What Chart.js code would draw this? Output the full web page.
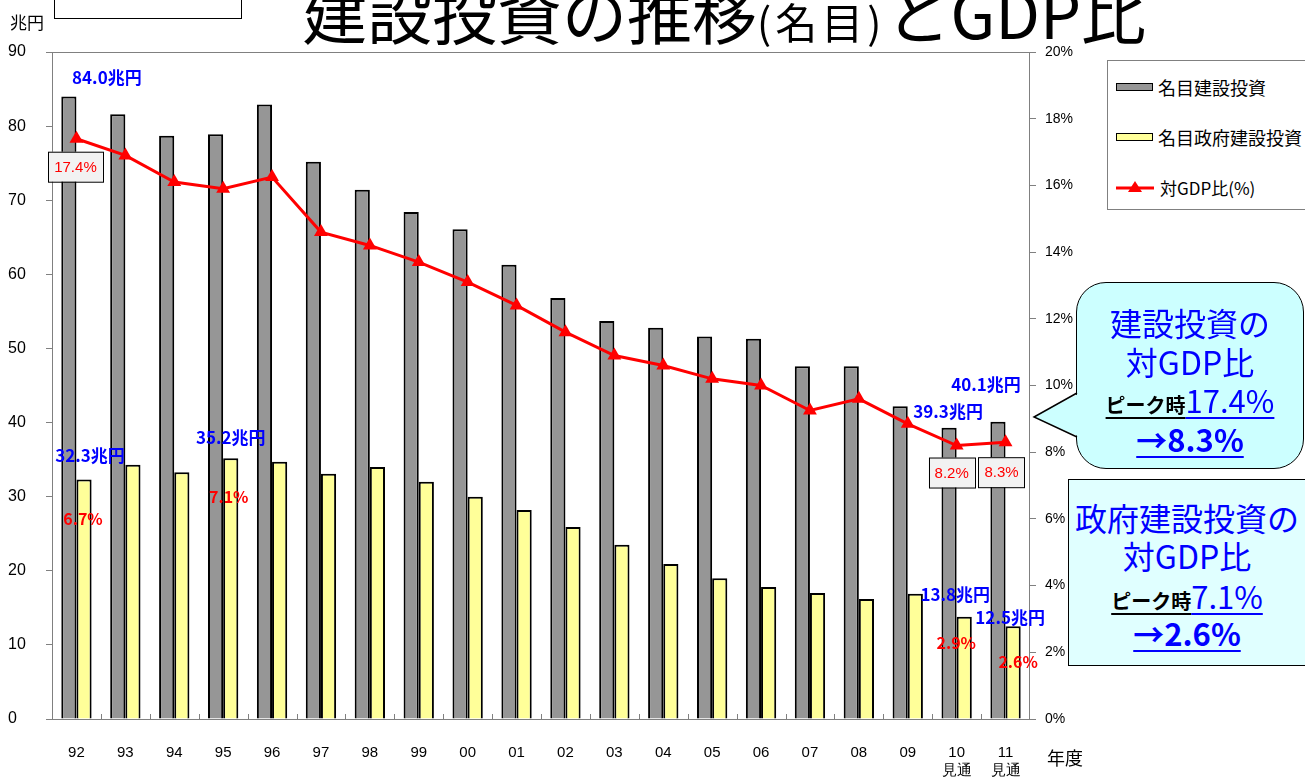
<!DOCTYPE html>
<html>
<head>
<meta charset="utf-8">
<script src="https://cdn.jsdelivr.net/npm/chart.js@4/dist/chart.umd.min.js"></script>
<style>
body { margin: 0; background: #fff; overflow: hidden; }
#wrap { position: relative; width: 1305px; height: 778px; overflow: hidden; font-family: "Noto Sans CJK JP", sans-serif; }
#chart { position: absolute; left: 0; top: 0; }
.abs { position: absolute; white-space: nowrap; }
.bubble { position: absolute; box-sizing: border-box; border: 1.5px solid #000; }
.line { position: absolute; left: 0; width: 100%; text-align: center; white-space: nowrap; color: #0000ff; }
.u { text-decoration: underline; text-decoration-thickness: 2px; text-underline-offset: 4px; }
</style>
</head>
<body>
<div id="wrap">
  <canvas id="chart" width="1305" height="778"></canvas>

  <div class="abs" style="left:54px; top:-2px; width:186px; height:19px; border:1px solid #000;"></div>
  <div class="abs" style="left:10px; top:10px; font-size:17px; line-height:24px;">兆円</div>
  <div class="abs" style="left:302px; top:-29px; font-size:65px; line-height:80px;">建設投資の推移<span style="font-size:42px; letter-spacing:4px;">(名目)</span>とGDP比</div>
  <div class="abs" style="left:1047px; top:745px; font-size:18px; line-height:24px;">年度</div>

  <!-- legend -->
  <div class="abs" style="left:1107px; top:60px; width:220px; height:150px; border:1px solid #808080; box-sizing:border-box; background:#fff;"></div>
  <div class="abs" style="left:1116px; top:83px; width:37px; height:8px; background:#969696; border:1.5px solid #000; box-sizing:border-box;"></div>
  <div class="abs" style="left:1158px; top:75px; font-size:18px; line-height:24px;">名目建設投資</div>
  <div class="abs" style="left:1116px; top:133px; width:37px; height:8px; background:#ffff99; border:1.5px solid #000; box-sizing:border-box;"></div>
  <div class="abs" style="left:1158px; top:125px; font-size:18px; line-height:24px;">名目政府建設投資</div>
  <svg class="abs" style="left:1114px; top:178px;" width="42" height="20">
    <line x1="2" y1="10" x2="40" y2="10" stroke="#ff0000" stroke-width="3"/>
    <polygon points="21,3 28,14 14,14" fill="#ff0000"/>
  </svg>
  <div class="abs" style="left:1160px; top:176px; font-size:17px; line-height:24px;">対GDP比(%)</div>

  <!-- callout 1 -->
  <div class="bubble" style="left:1076px; top:282px; width:228px; height:187px; border-radius:30px; background:#ccffff;">
    <div class="line" style="top:18px; font-size:32px; line-height:42px;">建設投資の</div>
    <div class="line" style="top:57px; font-size:32px; line-height:42px;">対GDP比</div>
    <div class="line" style="top:97px; line-height:40px;"><span class="u" style="font-size:20px; font-weight:bold; color:#000;">ピーク時</span><span class="u" style="font-size:31px;">17.4%</span></div>
    <div class="line" style="top:136px; line-height:40px;"><span class="u" style="font-size:31px; font-weight:bold;">→8.3%</span></div>
  </div>
  <svg class="abs" style="left:1030px; top:388px;" width="52" height="56">
    <polygon points="50,5 4,29 50,49" fill="#ccffff"/>
    <polyline points="47,5 4,29 47,49" fill="none" stroke="#000" stroke-width="1.5"/>
  </svg>

  <!-- callout 2 -->
  <div class="bubble" style="left:1068px; top:479px; width:250px; height:187px; background:#e0ffff;">
    <div class="line" style="top:16px; width:236px; font-size:32px; line-height:42px;">政府建設投資の</div>
    <div class="line" style="top:54px; width:236px; font-size:32px; line-height:42px;">対GDP比</div>
    <div class="line" style="top:96px; width:236px; line-height:40px;"><span class="u" style="font-size:20px; font-weight:bold; color:#000;">ピーク時</span><span class="u" style="font-size:31px;">7.1%</span></div>
    <div class="line" style="top:133px; width:236px; line-height:40px;"><span class="u" style="font-size:31px; font-weight:bold;">→2.6%</span></div>
  </div>
</div>

<script>
// 年度
var years = ['92', '93', '94', '95', '96', '97', '98', '99', '00', '01',
             '02', '03', '04', '05', '06', '07', '08', '09', ['10', '見通'], ['11', '見通']];

// 名目建設投資（兆円）
var grossInvest = [84.0, 81.6, 78.7, 78.9, 82.9, 75.2, 71.4, 68.4, 66.1, 61.3,
                   56.8, 53.7, 52.8, 51.6, 51.3, 47.6, 47.6, 42.2, 39.3, 40.1];

// 名目政府建設投資（兆円）
var govInvest = [32.3, 34.3, 33.3, 35.2, 34.7, 33.1, 34.0, 32.0, 30.0, 28.2,
                 25.9, 23.5, 20.9, 19.0, 17.8, 17.0, 16.2, 16.9, 13.8, 12.5];

// 建設投資の対GDP比（%）
var gdpRatio = [17.4, 16.9, 16.1, 15.9, 16.25, 14.6, 14.2, 13.7, 13.1, 12.4,
                11.6, 10.9, 10.6, 10.2, 10.0, 9.25, 9.6, 8.85, 8.2, 8.3];

// 政府建設投資の対GDP比（%）: 注記のある年度だけ
var govRatioIdx = [0, 3, 18, 19];
var govRatioVal = [6.7, 7.1, 2.9, 2.6];

var narrow = '"Liberation Sans Narrow", "Arial Narrow", "Liberation Sans", sans-serif';
var jp = '"Noto Sans CJK JP", sans-serif';

// ds: 0 = line, 1 = gross bars, 2 = gov bars
var notes = [
    { ds: 1, i: 0, text: grossInvest[0].toFixed(1) + '兆円', dx: 38, dy: -19, kind: 'blue' },
    { ds: 2, i: 0, text: govInvest[0].toFixed(1) + '兆円', dx: 6, dy: -24, kind: 'blue' },
    { ds: 2, i: 3, text: govInvest[3].toFixed(1) + '兆円', dx: 0, dy: -21, kind: 'blue' },
    { ds: 1, i: 19, text: grossInvest[19].toFixed(1) + '兆円', dx: -12, dy: -37, kind: 'blue' },
    { ds: 1, i: 18, text: grossInvest[18].toFixed(1) + '兆円', dx: -1, dy: -16, kind: 'blue' },
    { ds: 2, i: 18, text: govInvest[18].toFixed(1) + '兆円', dx: -9, dy: -22, kind: 'blue' },
    { ds: 2, i: 19, text: govInvest[19].toFixed(1) + '兆円', dx: -3, dy: -9, kind: 'blue' },
    { ds: 0, i: 0, text: gdpRatio[0].toFixed(1) + '%', dx: -1, dy: 28, kind: 'box' },
    { ds: 0, i: 18, text: gdpRatio[18].toFixed(1) + '%', dx: -5, dy: 27, kind: 'box' },
    { ds: 0, i: 19, text: gdpRatio[19].toFixed(1) + '%', dx: -4, dy: 30, kind: 'box' }
];
var redOffsets = [[-1, 39], [-2, 39], [-8, 26], [5, 36]];
for (var k = 0; k < govRatioIdx.length; k++) {
    notes.push({ ds: 2, i: govRatioIdx[k], text: govRatioVal[k].toFixed(1) + '%',
                 dx: redOffsets[k][0], dy: redOffsets[k][1], kind: 'red' });
}

var framePlugin = {
    id: 'frame',
    beforeDatasetsDraw: function(chart) {
        var a = chart.chartArea;
        var ctx = chart.ctx;
        var x = chart.scales.x;
        ctx.save();
        ctx.strokeStyle = '#808080';
        ctx.lineWidth = 1;
        ctx.strokeRect(a.left + 0.5, a.top + 0.5, a.right - a.left - 1, a.bottom - a.top);
        // small category ticks on the bottom edge
        for (var i = 1; i < years.length; i++) {
            var px = Math.round((x.getPixelForValue(i - 1) + x.getPixelForValue(i)) / 2) + 0.5;
            ctx.beginPath();
            ctx.moveTo(px, a.bottom);
            ctx.lineTo(px, a.bottom - 5);
            ctx.stroke();
        }
        ctx.restore();
    }
};

var labelPlugin = {
    id: 'notes',
    afterDatasetsDraw: function(chart) {
        var ctx = chart.ctx;
        ctx.save();
        ctx.textAlign = 'center';
        ctx.textBaseline = 'middle';
        for (var n = 0; n < notes.length; n++) {
            var note = notes[n];
            var el = chart.getDatasetMeta(note.ds).data[note.i];
            var cx = el.x + note.dx;
            var cy = el.y + note.dy;
            if (note.kind == 'box') {
                ctx.font = '15px ' + narrow;
                var w = ctx.measureText(note.text).width + 12;
                ctx.fillStyle = '#f2f2f2';
                ctx.fillRect(cx - w / 2, cy - 15, w, 30);
                ctx.strokeStyle = '#000';
                ctx.lineWidth = 1;
                ctx.strokeRect(Math.round(cx - w / 2) + 0.5, cy - 15 + 0.5, Math.round(w), 30);
                ctx.fillStyle = '#ff0000';
                ctx.fillText(note.text, cx, cy + 1);
            } else if (note.kind == 'blue') {
                ctx.font = 'bold 17px ' + jp;
                ctx.fillStyle = '#0000ff';
                ctx.fillText(note.text, cx, cy);
            } else {
                ctx.font = 'bold 16px ' + jp;
                ctx.fillStyle = '#ff0000';
                ctx.fillText(note.text, cx, cy);
            }
        }
        ctx.restore();
    }
};

var config = {
    type: 'bar',
    plugins: [framePlugin, labelPlugin],
    data: {
        labels: years,
        datasets: [{
            type: 'line',
            label: '対GDP比(%)',
            data: gdpRatio,
            yAxisID: 'y1',
            borderColor: '#ff0000',
            backgroundColor: '#ff0000',
            borderWidth: 3,
            pointStyle: 'triangle',
            pointRadius: 8,
            pointBorderWidth: 0,
            tension: 0,
            order: 0
        }, {
            label: '名目建設投資',
            data: grossInvest,
            yAxisID: 'y',
            backgroundColor: '#969696',
            borderColor: '#000',
            borderWidth: 2,
            categoryPercentage: 0.62,
            barPercentage: 1.0,
            order: 1
        }, {
            label: '名目政府建設投資',
            data: govInvest,
            yAxisID: 'y',
            backgroundColor: '#ffff99',
            borderColor: '#000',
            borderWidth: 2,
            categoryPercentage: 0.62,
            barPercentage: 1.0,
            order: 2
        }]
    },
    options: {
        responsive: false,
        animation: false,
        layout: { padding: { left: 8, top: 52, right: 0, bottom: 0 } },
        plugins: {
            legend: { display: false },
            tooltip: { enabled: false }
        },
        scales: {
            x: {
                offset: true,
                grid: { display: false },
                border: { display: false },
                ticks: {
                    color: '#000',
                    padding: 17,
                    maxRotation: 0,
                    font: { family: narrow, size: 15, lineHeight: 1.2 }
                },
                afterFit: function(scale) { scale.height = 59; }
            },
            y: {
                position: 'left',
                min: 0,
                max: 90,
                ticks: {
                    stepSize: 10,
                    color: '#000',
                    crossAlign: 'far',
                    font: { family: narrow, size: 16 }
                },
                grid: { drawOnChartArea: false, drawTicks: true, tickLength: 6, color: '#808080' },
                border: { display: false },
                afterFit: function(scale) { scale.width = 44; }
            },
            y1: {
                position: 'right',
                min: 0,
                max: 20,
                ticks: {
                    stepSize: 2,
                    color: '#000',
                    padding: 9,
                    font: { family: narrow, size: 14 },
                    callback: function(v) { return v + '%'; }
                },
                grid: { drawOnChartArea: false, drawTicks: true, tickLength: 6, color: '#808080' },
                border: { display: false },
                afterFit: function(scale) { scale.width = 275; }
            }
        }
    }
};

var ctx = document.getElementById('chart').getContext('2d');
window.myChart = new Chart(ctx, config);
</script>
</body>
</html>
